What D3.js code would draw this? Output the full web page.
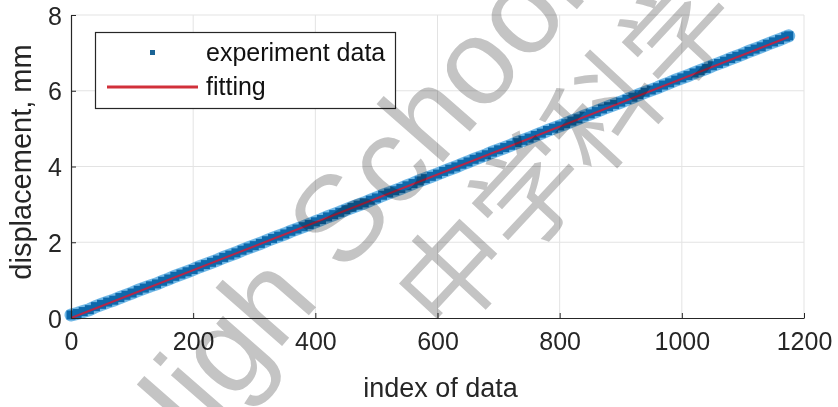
<!DOCTYPE html>
<html>
<head>
<meta charset="utf-8">
<script src="https://cdn.jsdelivr.net/npm/d3@7"></script>
<style>
  body { margin: 0; background: #fff; }
  svg { display: block; font-family: "Liberation Sans", Arial, sans-serif; }
</style>
</head>
<body>
<svg id="chart"></svg>
<script>
// measured displacement, one value every 10 samples (index 0..1170, then 1175)
var sampleStep = 10;
var displacement = [
  0.08, 0.12, 0.17, 0.22, 0.30, 0.36, 0.42, 0.47, 0.54, 0.60,
  0.66, 0.73, 0.79, 0.85, 0.90, 0.97, 1.03, 1.10, 1.16, 1.22,
  1.28, 1.35, 1.41, 1.47, 1.53, 1.60, 1.66, 1.72, 1.79, 1.85,
  1.91, 1.97, 2.04, 2.10, 2.16, 2.22, 2.29, 2.35, 2.41, 2.47,
  2.54, 2.60, 2.67, 2.73, 2.79, 2.86, 2.92, 2.98, 3.04, 3.11,
  3.17, 3.24, 3.30, 3.36, 3.42, 3.49, 3.55, 3.62, 3.68, 3.74,
  3.80, 3.87, 3.93, 3.99, 4.06, 4.12, 4.19, 4.25, 4.31, 4.38,
  4.44, 4.50, 4.56, 4.63, 4.69, 4.75, 4.82, 4.88, 4.95, 5.01,
  5.07, 5.13, 5.20, 5.26, 5.33, 5.39, 5.45, 5.52, 5.58, 5.64,
  5.70, 5.77, 5.83, 5.90, 5.96, 6.02, 6.08, 6.15, 6.21, 6.28,
  6.34, 6.40, 6.47, 6.53, 6.59, 6.66, 6.72, 6.78, 6.85, 6.91,
  6.97, 7.04, 7.10, 7.16, 7.23, 7.29, 7.35, 7.42
];
var lastIndex = 1175, lastValue = 7.45;

// fitted straight line, end points
var fitX = [0, 1175];
var fitY = [0.0, 7.42];

var xTicks = [0, 200, 400, 600, 800, 1000, 1200];
var yTicks = [0, 2, 4, 6, 8];
var legendLabels = ["experiment data", "fitting"];

var width = 838, height = 407;
var margin = {left: 71, right: 34, top: 15, bottom: 89};

var svg = d3.select("#chart").attr("width", width).attr("height", height);
svg.append("rect").attr("width", width).attr("height", height).attr("fill", "#fff");

var x = d3.scaleLinear().domain([0, 1200]).range([margin.left, width - margin.right]);
var y = d3.scaleLinear().domain([0, 8]).range([height - margin.bottom, margin.top]);

var points = displacement.map(function(v, i) { return {i: i * sampleStep, v: v}; });
points.push({i: lastIndex, v: lastValue});

// grid
svg.append("g").selectAll("line").data(xTicks.slice(1)).enter().append("line")
  .attr("x1", d => x(d)).attr("x2", d => x(d))
  .attr("y1", y(0)).attr("y2", y(8))
  .attr("stroke", "#e3e3e3").attr("stroke-width", 1);
svg.append("g").selectAll("line").data(yTicks.slice(1)).enter().append("line")
  .attr("x1", x(0)).attr("x2", x(1200))
  .attr("y1", d => y(d)).attr("y2", d => y(d))
  .attr("stroke", "#e3e3e3").attr("stroke-width", 1);

// data band: light halo then square markers
var line = d3.line().x(d => x(d.i)).y(d => y(d.v));
svg.append("path").datum(points).attr("d", line)
  .attr("fill", "none").attr("stroke", "#4ea6e0").attr("stroke-width", 13)
  .attr("stroke-linecap", "round").attr("opacity", 0.8);
svg.append("g").selectAll("rect").data(points).enter().append("rect")
  .attr("x", d => x(d.i) - 4.5).attr("y", d => y(d.v) - 4.5)
  .attr("width", 9).attr("height", 9)
  .attr("fill", "#0d68ab");

// fit line
svg.append("path")
  .datum(fitX.map((v, k) => ({i: v, v: fitY[k]})))
  .attr("d", line)
  .attr("fill", "none").attr("stroke", "#b3284a").attr("stroke-width", 2);

// axes
var xAxis = d3.axisBottom(x).tickValues(xTicks).tickFormat(d3.format("d"))
  .tickSizeInner(-5).tickSizeOuter(0).tickPadding(14);
var gx = svg.append("g").attr("transform", "translate(0," + y(0) + ")").call(xAxis);
var yAxis = d3.axisLeft(y).tickValues(yTicks).tickFormat(d3.format("d"))
  .tickSizeInner(-5).tickSizeOuter(0).tickPadding(9);
var gy = svg.append("g").attr("transform", "translate(" + x(0) + ",0)").call(yAxis);
[gx, gy].forEach(function(g) {
  g.select(".domain").attr("stroke", "#262626").attr("stroke-width", 1.2);
  g.selectAll(".tick line").attr("stroke", "#262626");
  g.selectAll(".tick text").attr("fill", "#262626")
    .attr("font-size", 25).attr("font-family", "Liberation Sans, Arial, sans-serif");
});
gy.selectAll(".tick text").attr("dy", "0.36em");

svg.append("text").attr("x", (x(0) + x(1200)) / 2 + 3).attr("y", 397)
  .attr("text-anchor", "middle").attr("font-size", 27).attr("fill", "#262626")
  .text("index of data");
svg.append("text").attr("transform", "translate(31," + 162 + ") rotate(-90)")
  .attr("text-anchor", "middle").attr("font-size", 29).attr("fill", "#262626")
  .text("displacement, mm");

// legend
var lg = svg.append("g");
lg.append("rect").attr("x", 95.5).attr("y", 32.5).attr("width", 300).attr("height", 76)
  .attr("fill", "#fff").attr("stroke", "#262626").attr("stroke-width", 1.2);
lg.append("rect").attr("x", 150).attr("y", 50).attr("width", 5).attr("height", 5).attr("fill", "#1a6496");
lg.append("line").attr("x1", 107).attr("x2", 198).attr("y1", 87).attr("y2", 87)
  .attr("stroke", "#d1303a").attr("stroke-width", 3);
lg.selectAll("text.lab").data(legendLabels).enter().append("text")
  .attr("x", 206).attr("y", (d, k) => 61 + k * 34)
  .attr("font-size", 25).attr("fill", "#111").text(d => d);

// watermark
var wm = svg.append("g").style("mix-blend-mode", "multiply").attr("fill", "#c4c4c4");
wm.append("text").attr("transform", "translate(156,490) rotate(-48.8)")
  .attr("font-size", 122).attr("font-family", "Liberation Sans, Arial, sans-serif")
  .text("High School");
wm.append("text").attr("transform", "translate(560,147) rotate(-47)")
  .attr("text-anchor", "middle").attr("dominant-baseline", "central")
  .attr("font-size", 110).attr("font-family", "Noto Sans CJK SC")
  .text("中学科学");
</script>
</body>
</html>
